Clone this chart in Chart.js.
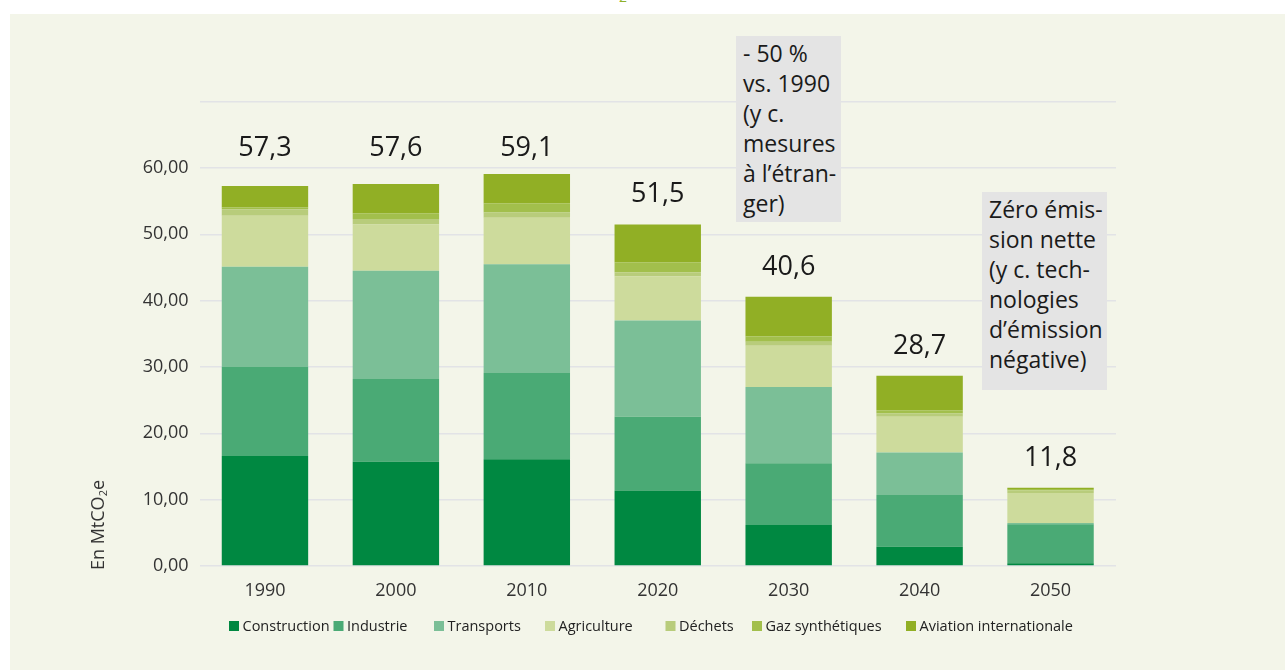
<!DOCTYPE html>
<html>
<head>
<meta charset="utf-8">
<script src="https://cdn.jsdelivr.net/npm/chart.js@4.4.1/dist/chart.umd.min.js"></script>
<style>
  html, body { margin: 0; padding: 0; background: #ffffff; }
  body { width: 1285px; height: 670px; position: relative; overflow: hidden; font-family: 'Open Sans', sans-serif; }
  #panel { position: absolute; left: 10px; top: 14px; right: 0; bottom: 0; background: #f3f5e9; }
  #c { position: absolute; left: 0; top: 0; }
  .note { position: absolute; background: #e4e4e4; color: #1a1a1a; font-size: 23px; line-height: 30px;
          padding: 2px 0 0 7px; box-sizing: border-box; white-space: nowrap; }
  #ytitle { position: absolute; left: 27px; top: 513px; width: 140px; height: 24px; line-height: 24px;
            text-align: center; font-size: 18px; color: #333; transform: rotate(-90deg); transform-origin: 70px 12px; }
  #ytitle sub { font-size: 11px; vertical-align: -3px; line-height: 0; }
  #pg { position: absolute; left: 619px; top: -13px; font-size: 14px; color: #8fb02a; }
</style>
</head>
<body>
<div id="pg">2</div>
<div id="panel"></div>
<canvas id="c" width="1285" height="670"></canvas>
<div class="note" style="left:736px; top:36px; width:105px; height:186px;">- 50 %<br>vs. 1990<br>(y c.<br>mesures<br>à l’étran-<br>ger)</div>
<div class="note" style="left:982px; top:192px; width:125px; height:198px;">Zéro émis-<br>sion nette<br>(y c. tech-<br>nologies<br>d’émission<br>négative)</div>
<div id="ytitle">En MtCO<sub>2</sub>e</div>
<script>
const categories   = ['1990', '2000', '2010', '2020', '2030', '2040', '2050'];
const construction = [16.6, 15.7, 16.1, 11.4, 6.2, 2.9, 0.4];
const industrie    = [13.4, 12.5, 13.0, 11.1, 9.3, 7.8, 5.9];
const transports   = [15.1, 16.3, 16.4, 14.5, 11.5, 6.4, 0.2];
const agriculture  = [7.7, 7.0, 7.0, 6.7, 6.2, 5.4, 4.5];
const dechets      = [1.0, 0.8, 0.8, 0.6, 0.6, 0.5, 0.4];
const gazSynth     = [0.3, 0.9, 1.4, 1.5, 0.8, 0.5, 0.2];
const aviation     = [3.2, 4.4, 4.4, 5.7, 6.0, 5.2, 0.2];
const seriesNames  = ['Construction', 'Industrie', 'Transports', 'Agriculture', 'Déchets', 'Gaz synthétiques', 'Aviation internationale'];
const seriesColors = ['#008841', '#4aaa75', '#7bbf97', '#cddb9c', '#b8cc7b', '#a2bf4c', '#91af25'];
const yMax = 70, yLabelMax = 60, yStep = 10;

const seriesValues = [construction, industrie, transports, agriculture, dechets, gazSynth, aviation];
const legendX = [229, 333.5, 434, 545, 665.5, 752, 906];

Chart.defaults.font.family = "'Open Sans', sans-serif";

const totalsPlugin = {
  id: 'totals',
  afterDatasetsDraw(chart) {
    const ctx = chart.ctx;
    const y = chart.scales.y;
    const lastMeta = chart.getDatasetMeta(chart.data.datasets.length - 1);
    ctx.save();
    ctx.font = "27px 'Open Sans', sans-serif";
    ctx.fillStyle = '#1a1a1a';
    ctx.textAlign = 'center';
    ctx.textBaseline = 'alphabetic';
    categories.forEach((c, i) => {
      let total = 0;
      chart.data.datasets.forEach(ds => total += ds.data[i]);
      const px = lastMeta.data[i].x;
      const py = total > 55 ? y.getPixelForValue(61.8) : y.getPixelForValue(total) - 22;
      ctx.fillText(total.toFixed(1).replace('.', ','), px, py);
    });
    ctx.restore();
  }
};

const legendPlugin = {
  id: 'customLegend',
  afterDraw(chart) {
    const ctx = chart.ctx;
    ctx.save();
    ctx.font = "14.5px 'Open Sans', sans-serif";
    ctx.textBaseline = 'middle';
    ctx.textAlign = 'left';
    chart.data.datasets.forEach((ds, i) => {
      const x = legendX[i];
      ctx.fillStyle = ds.backgroundColor;
      ctx.fillRect(x, 621, 10, 10);
      ctx.fillStyle = '#222';
      ctx.fillText(ds.label, x + 13.5, 626.5);
    });
    ctx.restore();
  }
};

new Chart(document.getElementById('c'), {
  type: 'bar',
  data: {
    labels: categories,
    datasets: seriesNames.map((n, i) => ({
      label: n,
      data: seriesValues[i],
      backgroundColor: seriesColors[i],
      borderWidth: 0,
      barPercentage: 0.66,
      categoryPercentage: 1.0
    }))
  },
  options: {
    responsive: false,
    devicePixelRatio: 1,
    animation: false,
    layout: { padding: { left: 0, right: 169, top: 101.7, bottom: 0 } },
    plugins: { legend: { display: false }, tooltip: { enabled: false } },
    scales: {
      x: {
        stacked: true,
        grid: { display: false },
        border: { display: false },
        ticks: { color: '#333', font: { size: 18 }, padding: 6 },
        afterFit(s) { s.height = 104; }
      },
      y: {
        stacked: true,
        min: 0, max: yMax,
        z: 1,
        grid: { color: '#e2e3e6', lineWidth: 1.5, drawTicks: false },
        border: { display: false },
        ticks: {
          stepSize: yStep, color: '#333', font: { size: 18 }, padding: 11,
          callback: v => v > yLabelMax ? '' : v.toFixed(2).replace('.', ',')
        },
        afterFit(s) { s.width = 199.5; }
      }
    }
  },
  plugins: [totalsPlugin, legendPlugin]
});
</script>
</body>
</html>
